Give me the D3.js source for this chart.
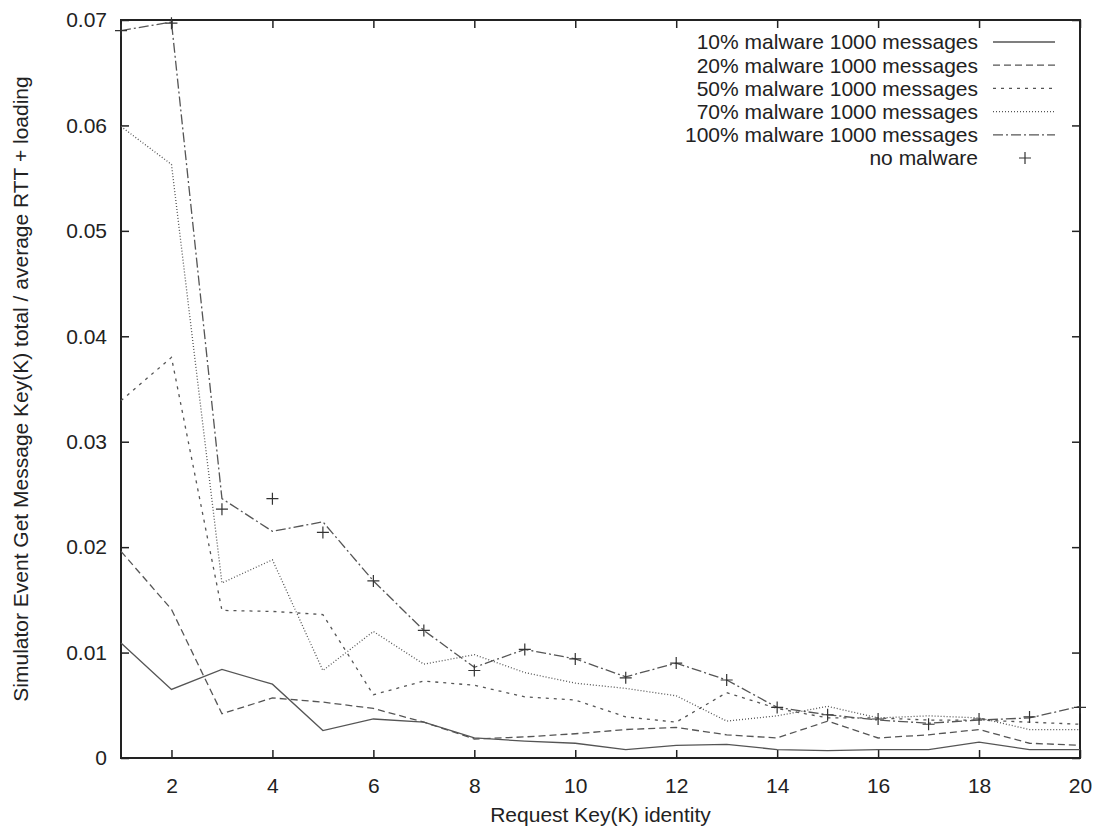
<!DOCTYPE html>
<html>
<head>
<meta charset="utf-8">
<script src="https://cdn.jsdelivr.net/npm/d3@7"></script>
<style>
  body { margin: 0; background: #fff; }
  svg { display: block; font-family: "Liberation Sans", Arial, sans-serif; }
  .axis text { font-size: 21px; fill: #222; }
</style>
</head>
<body>
<svg width="1101" height="830"></svg>
<script>
var keys = d3.range(1, 21);

var malware10 = [0.0109, 0.0065, 0.0084, 0.0070, 0.0026, 0.0037, 0.0034, 0.0019, 0.0016, 0.0014,
                 0.0008, 0.0012, 0.0013, 0.0008, 0.0007, 0.0008, 0.0008, 0.0015, 0.0008, 0.0008];
var malware20 = [0.0196, 0.0141, 0.0042, 0.0057, 0.0053, 0.0047, 0.0034, 0.0018, 0.0020, 0.0023,
                 0.0027, 0.0029, 0.0022, 0.0019, 0.0035, 0.0019, 0.0022, 0.0027, 0.0014, 0.0012];
var malware50 = [0.0339, 0.0380, 0.0140, 0.0139, 0.0136, 0.0060, 0.0073, 0.0069, 0.0058, 0.0055,
                 0.0039, 0.0034, 0.0062, 0.0047, 0.0038, 0.0038, 0.0036, 0.0036, 0.0034, 0.0032];
var malware70 = [0.0599, 0.0563, 0.0166, 0.0188, 0.0083, 0.0120, 0.0089, 0.0098, 0.0081, 0.0071,
                 0.0066, 0.0059, 0.0035, 0.0040, 0.0049, 0.0038, 0.0040, 0.0038, 0.0027, 0.0027];
var malware100 = [0.0690, 0.0698, 0.0246, 0.0215, 0.0224, 0.0168, 0.0121, 0.0086, 0.0103, 0.0094,
                  0.0077, 0.0090, 0.0074, 0.0048, 0.0041, 0.0036, 0.0033, 0.0036, 0.0038, 0.0049];
var noMalware = [0.0690, 0.0697, 0.0236, 0.0246, 0.0214, 0.0168, 0.0121, 0.0083, 0.0103, 0.0094,
                 0.0076, 0.0090, 0.0074, 0.0048, 0.0041, 0.0037, 0.0032, 0.0037, 0.0039, 0.0048];

var seriesNames = ["10% malware 1000 messages", "20% malware 1000 messages", "50% malware 1000 messages",
                   "70% malware 1000 messages", "100% malware 1000 messages", "no malware"];
var xTicks = [2, 4, 6, 8, 10, 12, 14, 16, 18, 20];
var yTicks = [0, 0.01, 0.02, 0.03, 0.04, 0.05, 0.06, 0.07];

var lineSeries = [
    { name: seriesNames[0], values: malware10, dash: null },
    { name: seriesNames[1], values: malware20, dash: "7,4" },
    { name: seriesNames[2], values: malware50, dash: "3,5" },
    { name: seriesNames[3], values: malware70, dash: "1,2" },
    { name: seriesNames[4], values: malware100, dash: "10,3,2,3" }
];

function draw() {
    var svg = d3.select("svg");
    var pLeft = 121, pRight = 1080, pTop = 20, pBottom = 758;

    var x = d3.scaleLinear().domain([1, 20]).range([pLeft, pRight]);
    var y = d3.scaleLinear().domain([0, 0.07]).range([pBottom, pTop]);

    var yFmt = function(d) { return d === 0 ? "0" : d3.format(".2f")(d); };

    // axes with inward ticks, mirrored on top/right
    svg.append("g")
        .attr("class", "axis")
        .attr("transform", "translate(0," + pBottom + ")")
        .call(d3.axisBottom(x).tickValues(xTicks).tickSize(-8).tickPadding(20))
        .call(function(g) { g.select(".domain").remove(); });

    svg.append("g")
        .attr("class", "axis")
        .attr("transform", "translate(0," + pTop + ")")
        .call(d3.axisTop(x).tickValues(xTicks).tickSize(-8).tickFormat(""))
        .call(function(g) { g.select(".domain").remove(); });

    svg.append("g")
        .attr("class", "axis")
        .attr("transform", "translate(" + pLeft + ",0)")
        .call(d3.axisLeft(y).tickValues(yTicks).tickSize(-8).tickPadding(14).tickFormat(yFmt))
        .call(function(g) { g.select(".domain").remove(); });

    svg.append("g")
        .attr("class", "axis")
        .attr("transform", "translate(" + pRight + ",0)")
        .call(d3.axisRight(y).tickValues(yTicks).tickSize(-8).tickFormat(""))
        .call(function(g) { g.select(".domain").remove(); });

    svg.selectAll(".axis .tick line").attr("stroke", "#222").attr("stroke-width", 1.5);

    svg.append("rect")
        .attr("x", pLeft).attr("y", pTop)
        .attr("width", pRight - pLeft).attr("height", pBottom - pTop)
        .attr("fill", "none").attr("stroke", "#222").attr("stroke-width", 2);

    // series lines
    var line = d3.line()
        .x(function(d, i) { return x(keys[i]); })
        .y(function(d) { return y(d); });

    svg.append("g").selectAll("path")
        .data(lineSeries)
        .enter().append("path")
        .attr("d", function(s) { return line(s.values); })
        .attr("fill", "none")
        .attr("stroke", "#555")
        .attr("stroke-width", 1.3)
        .attr("stroke-dasharray", function(s) { return s.dash; });

    // no malware points
    svg.append("g").selectAll("path")
        .data(noMalware)
        .enter().append("path")
        .attr("transform", function(d, i) { return "translate(" + x(keys[i]) + "," + y(d) + ")"; })
        .attr("d", "M-6,0H6M0,-6V6")
        .attr("stroke", "#333")
        .attr("stroke-width", 1.2);

    // legend
    var legend = svg.append("g").attr("font-size", 21).attr("fill", "#222");
    var rowY = function(i) { return 42 + i * 23.2; };

    legend.selectAll("text")
        .data(seriesNames)
        .enter().append("text")
        .attr("x", 978)
        .attr("y", function(d, i) { return rowY(i); })
        .attr("dy", "0.35em")
        .attr("text-anchor", "end")
        .text(function(d) { return d; });

    legend.selectAll("line")
        .data(lineSeries)
        .enter().append("line")
        .attr("x1", 993).attr("x2", 1055)
        .attr("y1", function(d, i) { return rowY(i); })
        .attr("y2", function(d, i) { return rowY(i); })
        .attr("stroke", "#555")
        .attr("stroke-width", 1.3)
        .attr("stroke-dasharray", function(s) { return s.dash; });

    legend.append("path")
        .attr("transform", "translate(1025," + rowY(5) + ")")
        .attr("d", "M-6,0H6M0,-6V6")
        .attr("stroke", "#333")
        .attr("stroke-width", 1.2);

    // axis titles
    svg.append("text")
        .attr("x", (pLeft + pRight) / 2).attr("y", 822)
        .attr("text-anchor", "middle")
        .attr("font-size", 21).attr("fill", "#222")
        .text("Request Key(K) identity");

    svg.append("text")
        .attr("transform", "translate(28," + ((pTop + pBottom) / 2) + ") rotate(-90)")
        .attr("text-anchor", "middle")
        .attr("font-size", 21).attr("fill", "#222")
        .text("Simulator Event Get Message Key(K) total / average RTT + loading");
}

draw();
</script>
</body>
</html>
